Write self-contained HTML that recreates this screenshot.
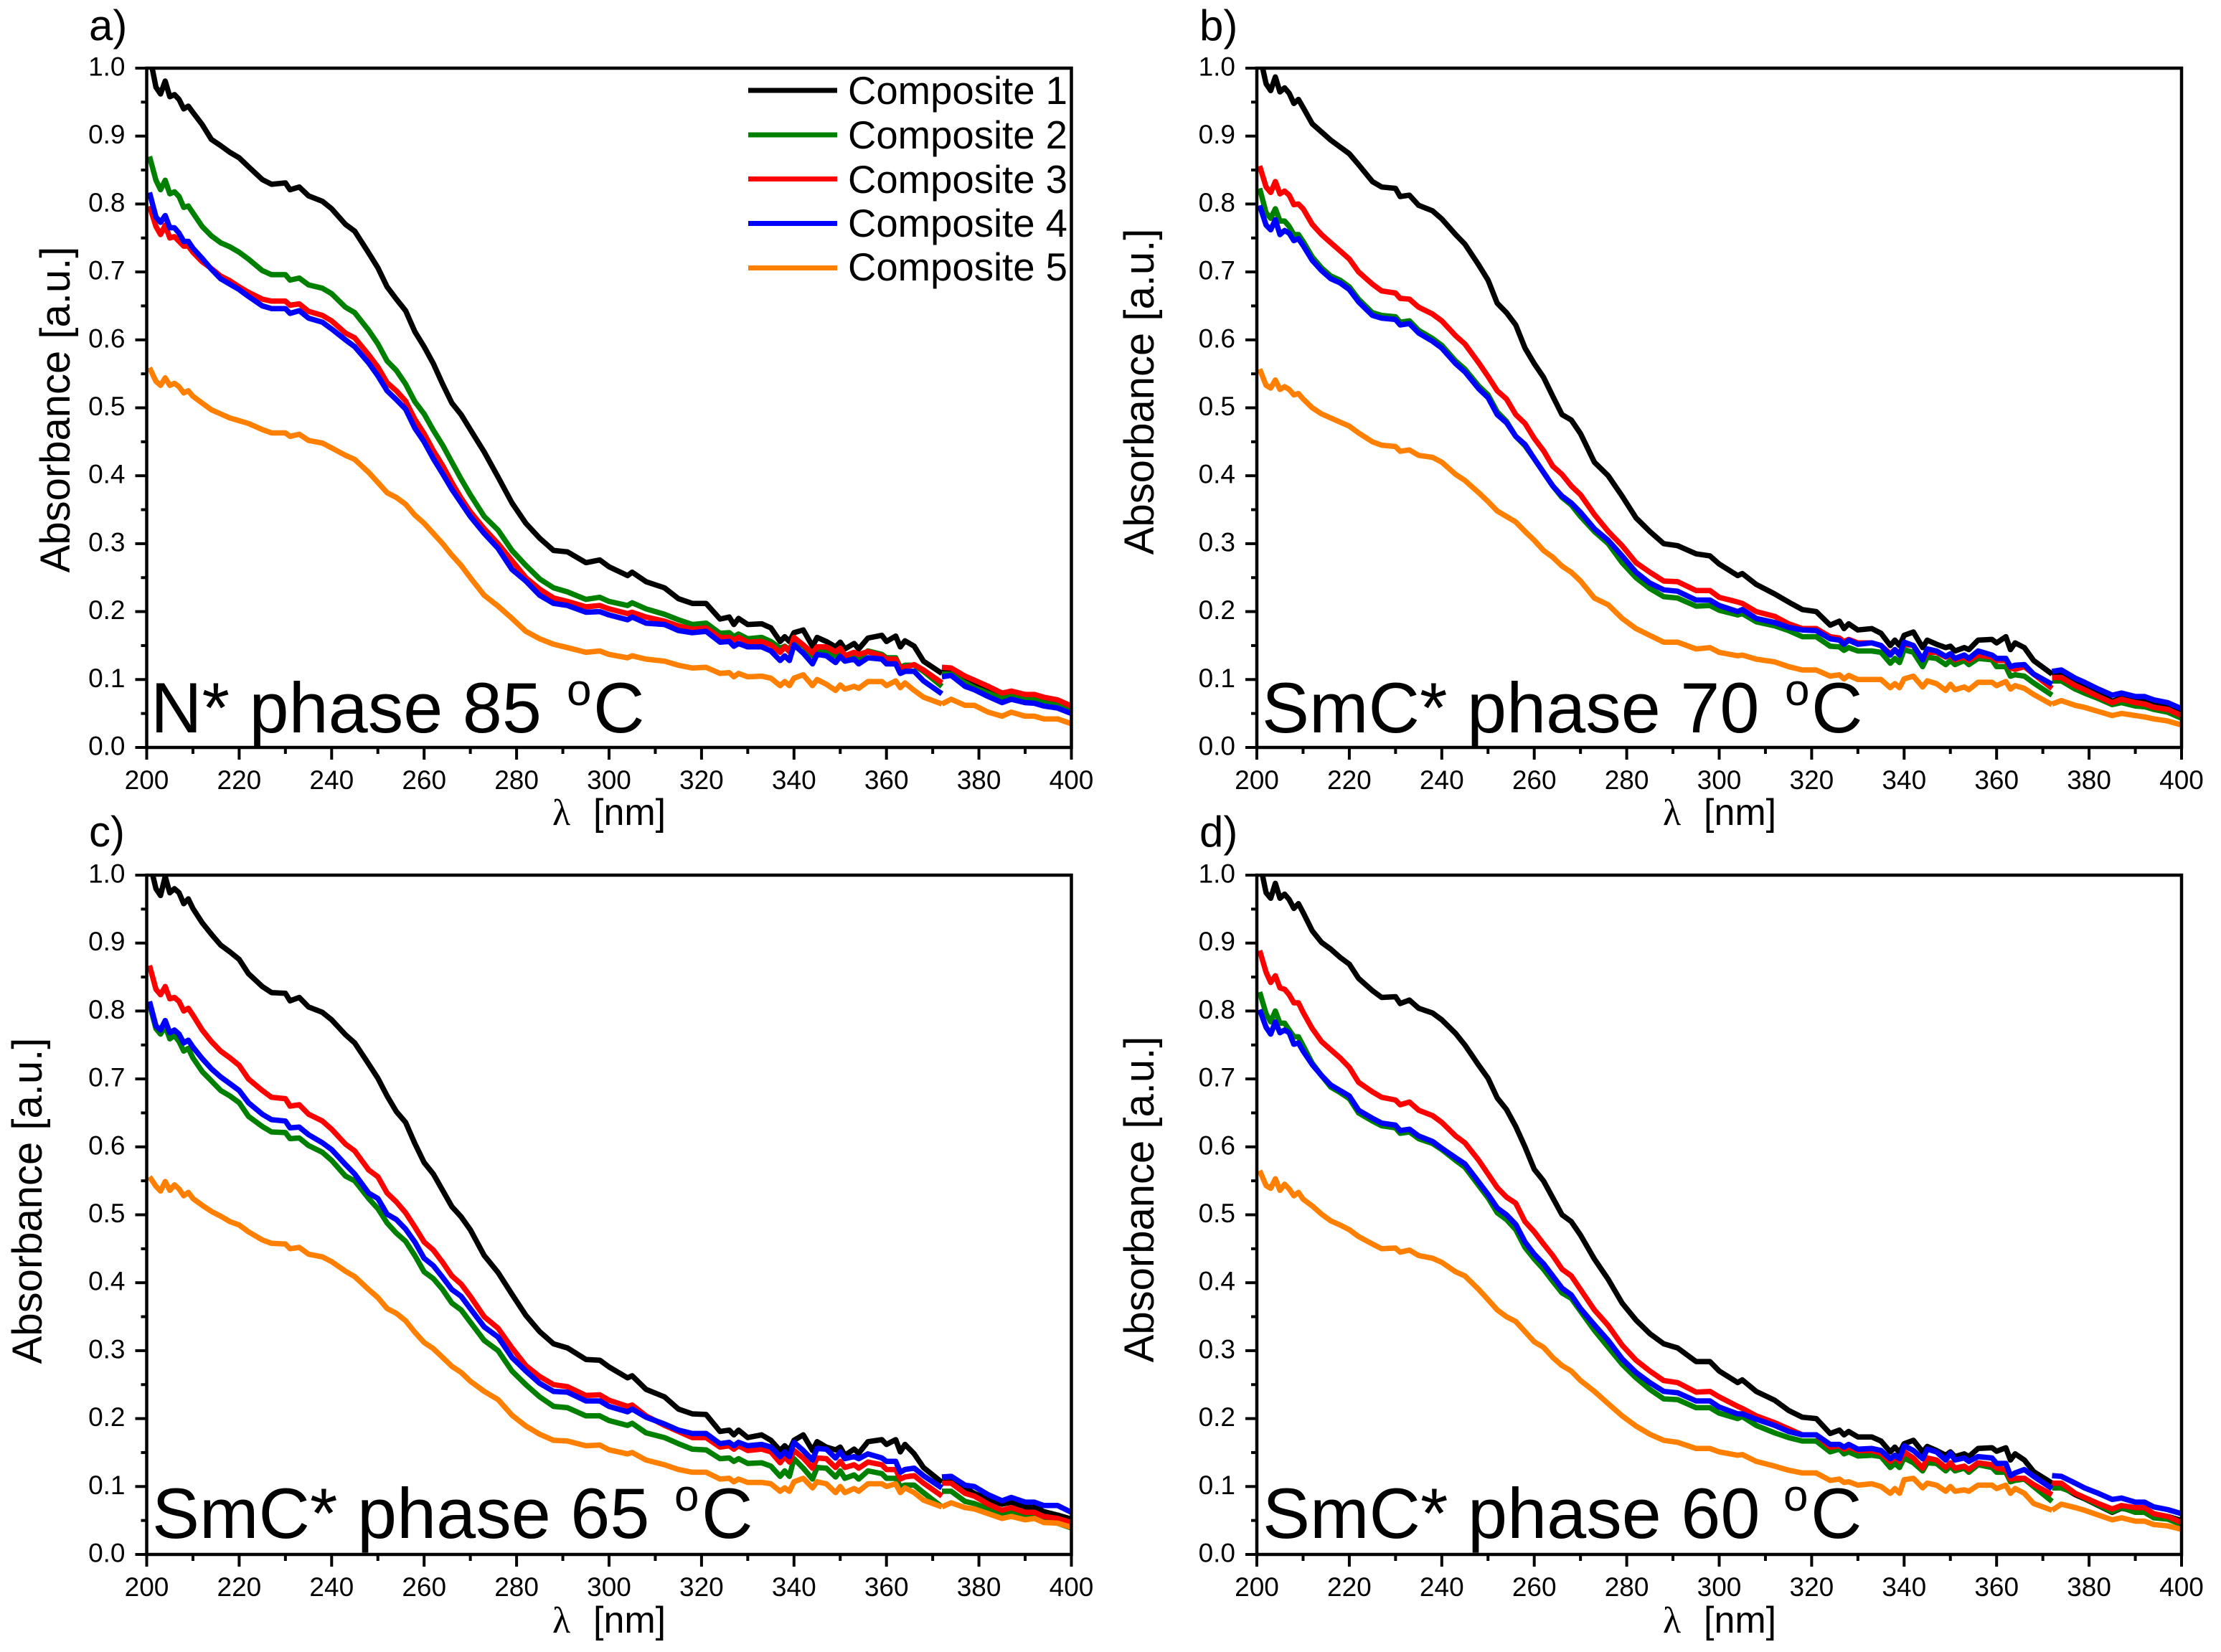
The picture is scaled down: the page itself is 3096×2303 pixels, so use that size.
<!DOCTYPE html>
<html lang="en">
<head>
<meta charset="utf-8">
<title>Absorbance spectra of composites</title>
<style>
html,body{margin:0;padding:0;background:#fff;}
svg{display:block;}
text{font-family:"Liberation Sans",sans-serif;fill:#000;}
.tick-label{font-size:37px;}
.axis-title{font-size:58px;}
.x-title{font-size:52px;}
.lambda{font-family:"Liberation Serif",serif;font-size:52px;}
.panel-letter{font-size:60px;}
.phase{font-size:99px;}
.phase-sup{font-size:62px;}
.legend-text{font-size:54.5px;}
</style>
</head>
<body>
<svg id="figure" xmlns="http://www.w3.org/2000/svg" width="3096" height="2303" viewBox="0 0 3096 2303">
<rect x="0" y="0" width="3096" height="2303" fill="#fff"/>
<g id="plots"></g>

<g>
<text class="panel-letter" x="124" y="56">a)</text>
<text class="axis-title" transform="translate(97 571) rotate(-90)" text-anchor="middle">Absorbance [a.u.]</text>
<text class="lambda" x="770" y="1150">λ</text>
<text class="x-title" x="827" y="1150">[nm]</text>
<text class="phase" x="210" y="1021">N* phase 85</text>
<text class="phase-sup" x="790" y="983">o</text>
<text class="phase" x="827" y="1021">C</text>
</g>

<g>
<text class="panel-letter" x="1672" y="56">b)</text>
<text class="axis-title" transform="translate(1608 546) rotate(-90)" text-anchor="middle">Absorbance [a.u.]</text>
<text class="lambda" x="2318" y="1150">λ</text>
<text class="x-title" x="2375" y="1150">[nm]</text>
<text class="phase" x="1759" y="1021">SmC* phase 70</text>
<text class="phase-sup" x="2488" y="983">o</text>
<text class="phase" x="2525" y="1021">C</text>
</g>

<g>
<text class="panel-letter" x="124" y="1180">c)</text>
<text class="axis-title" transform="translate(58 1674) rotate(-90)" text-anchor="middle">Absorbance [a.u.]</text>
<text class="lambda" x="770" y="2276">λ</text>
<text class="x-title" x="827" y="2276">[nm]</text>
<text class="phase" x="212" y="2144">SmC* phase 65</text>
<text class="phase-sup" x="940" y="2106">o</text>
<text class="phase" x="978" y="2144">C</text>
</g>

<g>
<text class="panel-letter" x="1672" y="1180">d)</text>
<text class="axis-title" transform="translate(1608 1672) rotate(-90)" text-anchor="middle">Absorbance [a.u.]</text>
<text class="lambda" x="2318" y="2276">λ</text>
<text class="x-title" x="2375" y="2276">[nm]</text>
<text class="phase" x="1760" y="2144">SmC* phase 60</text>
<text class="phase-sup" x="2486" y="2106">o</text>
<text class="phase" x="2524" y="2144">C</text>
</g>

<g>
<g>
<rect x="1043" y="122.500" width="124" height="7" fill="#000000"/>
<text class="legend-text" x="1182" y="145">Composite 1</text>
</g>
<g>
<rect x="1043" y="184.500" width="124" height="7" fill="#008000"/>
<text class="legend-text" x="1182" y="207">Composite 2</text>
</g>
<g>
<rect x="1043" y="246" width="124" height="7" fill="#ff0000"/>
<text class="legend-text" x="1182" y="269">Composite 3</text>
</g>
<g>
<rect x="1043" y="308" width="124" height="7" fill="#0000ff"/>
<text class="legend-text" x="1182" y="330">Composite 4</text>
</g>
<g>
<rect x="1043" y="370" width="124" height="7" fill="#ff8000"/>
<text class="legend-text" x="1182" y="391">Composite 5</text>
</g>
</g>
</svg>

<script>
// Shared wavelength samples. 372 appears twice: the detector change breaks each curve there.
const wavelengths = [200.6,202,203,204,205,206,207,208,209,210,
212,214,216,218,220,222,225,227,230,231,
233,235,238,240,243,245,248,250,252,254,
256,258,260,262,264,266,268,270,273,276,
279,282,285,288,291,295,298,300,304,305,
308,312,315,318,321,324,326,327,328,330,
333,335,337,338,339,340,342,344,345,347,
349,350,351,353,354,356,359,360,362,363,
364,366,368,372,
372,374,377,379,382,385,387,390,392,394,397,400];

const xTickValues = [200,220,240,260,280,300,320,340,360,380,400];
const xMinorTickValues = [210,230,250,270,290,310,330,350,370,390];
const yTickValues = [0,0.1,0.2,0.3,0.4,0.5,0.6,0.7,0.8,0.9,1];
const yTickLabels = ["0.0","0.1","0.2","0.3","0.4","0.5","0.6","0.7","0.8","0.9","1.0"];
const yMinorTickValues = [0.05,0.15,0.25,0.35,0.45,0.55,0.65,0.75,0.85,0.95];

const panelA_composite1 = [1.02,.972,.962,.981,.958,.961,.954,.94,.944,.935,
.917,.895,.886,.876,.868,.855,.836,.829,.831,.821,
.825,.812,.804,.793,.77,.76,.728,.706,.678,.66,
.643,.612,.59,.565,.535,.507,.49,.468,.435,.398,
.36,.33,.308,.29,.288,.272,.276,.266,.253,.258,
.244,.235,.219,.212,.212,.189,.192,.181,.19,.181,
.182,.176,.156,.163,.156,.169,.173,.149,.162,.156,
.148,.155,.145,.153,.145,.161,.165,.156,.164,.148,
.157,.149,.127,.109,
.112,.113,.1,.095,.085,.074,.08,.074,.074,.068,.065,.056];
const panelA_composite2 = [.87,.835,.821,.835,.815,.818,.811,.795,.797,.787,
.767,.753,.743,.737,.729,.719,.702,.696,.696,.688,
.691,.681,.676,.668,.648,.64,.614,.594,.569,.555,
.535,.509,.491,.467,.445,.42,.395,.372,.34,.32,
.29,.268,.248,.235,.229,.218,.221,.215,.209,.213,
.204,.196,.188,.181,.183,.168,.169,.163,.167,.16,
.162,.156,.146,.149,.144,.155,.15,.135,.144,.14,
.135,.142,.133,.138,.132,.142,.137,.132,.132,.118,
.121,.121,.112,.09,
.108,.108,.095,.088,.08,.072,.077,.071,.07,.066,.062,.054];
const panelA_composite3 = [.797,.767,.755,.769,.75,.752,.745,.738,.738,.729,
.715,.705,.694,.687,.678,.67,.66,.657,.657,.651,
.653,.642,.636,.628,.61,.603,.578,.56,.537,.525,
.51,.483,.462,.437,.415,.39,.367,.347,.322,.3,
.275,.25,.233,.22,.215,.207,.209,.204,.197,.199,
.192,.186,.179,.174,.176,.162,.162,.158,.162,.155,
.156,.151,.14,.148,.141,.162,.151,.139,.148,.148,
.141,.146,.135,.14,.137,.141,.135,.13,.13,.118,
.118,.122,.114,.095,
.118,.117,.105,.099,.09,.08,.083,.078,.078,.074,.07,.061];
const panelA_composite4 = [.817,.781,.773,.783,.765,.765,.757,.745,.745,.735,
.72,.704,.69,.682,.674,.664,.65,.646,.646,.639,
.643,.632,.626,.616,.6,.59,.566,.547,.525,.512,
.498,.47,.45,.425,.403,.38,.36,.34,.315,.293,
.262,.245,.224,.212,.209,.199,.2,.195,.188,.192,
.183,.181,.172,.169,.171,.155,.156,.149,.153,.148,
.148,.142,.128,.135,.128,.151,.139,.123,.137,.135,
.125,.134,.127,.13,.123,.132,.13,.123,.123,.109,
.112,.112,.098,.079,
.104,.106,.09,.085,.075,.066,.071,.066,.065,.061,.058,.05];
const panelA_composite5 = [.559,.539,.533,.544,.533,.536,.531,.522,.525,.517,
.507,.497,.491,.485,.481,.477,.468,.463,.463,.458,
.461,.452,.448,.441,.43,.424,.405,.39,.375,.368,
.358,.342,.33,.315,.3,.283,.268,.25,.224,.208,
.19,.171,.16,.152,.147,.14,.142,.137,.132,.135,
.13,.127,.121,.117,.118,.109,.11,.104,.109,.104,
.105,.102,.091,.097,.091,.102,.107,.091,.1,.093,
.084,.092,.086,.09,.087,.097,.097,.091,.098,.088,
.095,.084,.074,.064,
.064,.071,.062,.062,.052,.046,.052,.046,.046,.042,.042,.035];

const panelB_composite1 = [1.02,.977,.967,.987,.965,.971,.963,.948,.954,.942,
.918,.906,.894,.884,.874,.858,.833,.825,.823,.811,
.813,.798,.79,.778,.755,.741,.71,.688,.654,.64,
.622,.588,.565,.545,.517,.49,.482,.462,.42,.4,
.37,.338,.318,.3,.297,.285,.282,.27,.253,.256,
.24,.226,.214,.203,.2,.18,.186,.175,.182,.173,
.175,.168,.15,.158,.15,.165,.17,.147,.158,.152,
.147,.149,.142,.147,.144,.158,.159,.154,.163,.144,
.154,.147,.128,.108,
.11,.108,.096,.09,.08,.068,.073,.068,.068,.062,.06,.052];
const panelB_composite2 = [.823,.787,.779,.793,.775,.775,.767,.755,.755,.745,
.722,.706,.694,.688,.678,.66,.64,.636,.634,.626,
.628,.614,.602,.592,.569,.557,.532,.519,.494,.48,
.458,.444,.425,.405,.385,.368,.357,.34,.318,.3,
.272,.25,.234,.222,.22,.208,.209,.202,.195,.197,
.185,.179,.172,.163,.163,.149,.148,.143,.147,.142,
.142,.14,.124,.131,.125,.144,.14,.119,.133,.131,
.122,.128,.122,.128,.122,.131,.129,.119,.119,.105,
.107,.105,.095,.077,
.098,.098,.086,.08,.072,.063,.066,.061,.06,.056,.052,.043];
const panelB_composite3 = [.856,.825,.817,.833,.815,.819,.813,.799,.8,.793,
.77,.755,.743,.731,.719,.7,.682,.672,.669,.661,
.66,.648,.638,.628,.606,.594,.566,.546,.525,.513,
.49,.477,.455,.437,.414,.402,.385,.372,.343,.318,
.297,.272,.258,.245,.244,.231,.231,.221,.214,.212,
.2,.193,.182,.175,.175,.163,.161,.156,.159,.154,
.154,.15,.138,.144,.138,.152,.15,.129,.14,.14,
.133,.136,.129,.133,.128,.136,.133,.128,.128,.117,
.115,.119,.108,.087,
.103,.103,.091,.085,.075,.066,.071,.066,.064,.059,.056,.047];
const panelB_composite4 = [.798,.769,.762,.777,.755,.761,.757,.746,.749,.739,
.717,.702,.69,.684,.674,.656,.636,.632,.63,.622,
.624,.61,.598,.588,.565,.553,.528,.515,.49,.478,
.458,.446,.425,.405,.385,.37,.36,.346,.322,.305,
.282,.258,.242,.232,.23,.217,.217,.209,.2,.203,
.19,.184,.177,.173,.172,.16,.158,.152,.158,.152,
.154,.15,.136,.144,.136,.155,.15,.129,.145,.142,
.134,.138,.131,.136,.131,.142,.136,.131,.131,.119,
.121,.122,.108,.093,
.112,.114,.102,.096,.086,.077,.08,.075,.075,.07,.066,.057];
const panelB_composite5 = [.557,.533,.529,.541,.527,.531,.527,.519,.521,.513,
.5,.491,.485,.479,.473,.463,.45,.445,.443,.436,
.438,.43,.427,.42,.402,.393,.375,.362,.348,.34,
.332,.318,.305,.29,.28,.267,.258,.245,.22,.21,
.19,.175,.165,.155,.155,.145,.147,.14,.135,.136,
.13,.126,.119,.114,.114,.105,.107,.101,.106,.1,
.1,.1,.088,.094,.088,.101,.105,.089,.098,.094,
.084,.093,.085,.089,.085,.096,.096,.091,.097,.086,
.091,.087,.078,.063,
.064,.069,.062,.059,.053,.047,.05,.047,.045,.042,.039,.033];

const panelC_composite1 = [1.02,.98,.97,.998,.974,.98,.974,.958,.965,.951,
.93,.913,.897,.887,.876,.855,.836,.827,.826,.815,
.82,.806,.798,.787,.765,.753,.722,.701,.675,.652,
.636,.605,.577,.56,.536,.512,.497,.478,.44,.415,
.383,.352,.328,.31,.304,.287,.286,.276,.26,.263,
.243,.232,.214,.207,.206,.181,.183,.176,.183,.172,
.176,.168,.153,.16,.153,.168,.176,.153,.166,.158,
.154,.158,.146,.155,.149,.166,.169,.162,.169,.151,
.162,.148,.128,.106,
.106,.107,.098,.09,.081,.074,.077,.07,.07,.063,.058,.052];
const panelC_composite2 = [.81,.774,.766,.778,.759,.764,.755,.741,.745,.731,
.711,.697,.683,.675,.665,.645,.63,.622,.621,.612,
.613,.602,.592,.58,.557,.55,.524,.509,.488,.473,
.461,.44,.416,.406,.39,.37,.36,.342,.315,.3,
.27,.25,.232,.218,.216,.204,.204,.197,.19,.193,
.179,.172,.163,.155,.154,.141,.142,.137,.141,.134,
.135,.13,.115,.123,.115,.141,.127,.111,.128,.127,
.114,.123,.112,.117,.111,.123,.119,.112,.112,.1,
.102,.102,.091,.07,
.093,.093,.078,.075,.067,.058,.062,.056,.056,.05,.046,.039];
const panelC_composite3 = [.867,.832,.824,.836,.818,.82,.814,.8,.804,.794,
.772,.755,.741,.731,.72,.7,.683,.673,.671,.66,
.662,.648,.638,.626,.604,.594,.566,.556,.532,.519,
.503,.482,.46,.448,.43,.41,.398,.38,.35,.333,
.304,.278,.262,.25,.247,.234,.235,.227,.218,.22,
.204,.19,.181,.172,.172,.158,.16,.155,.16,.153,
.155,.151,.135,.144,.136,.153,.142,.127,.142,.141,
.128,.137,.128,.132,.127,.136,.132,.125,.125,.111,
.114,.116,.105,.086,
.105,.105,.09,.086,.074,.065,.069,.062,.062,.056,.053,.047];
const panelC_composite4 = [.814,.778,.772,.786,.768,.772,.766,.753,.757,.747,
.73,.715,.703,.693,.683,.665,.648,.64,.638,.628,
.629,.618,.606,.596,.574,.56,.532,.524,.501,.493,
.479,.46,.436,.425,.408,.39,.38,.362,.335,.32,
.29,.27,.252,.24,.239,.226,.226,.218,.21,.214,
.202,.192,.183,.178,.178,.163,.165,.16,.165,.16,
.162,.158,.144,.151,.144,.165,.153,.139,.156,.155,
.142,.151,.141,.144,.141,.148,.142,.137,.137,.121,
.125,.127,.116,.098,
.114,.115,.102,.1,.088,.079,.084,.077,.077,.072,.072,.062];
const panelC_composite5 = [.556,.542,.535,.549,.536,.544,.538,.528,.533,.524,
.514,.505,.498,.49,.485,.475,.463,.458,.457,.45,
.452,.442,.438,.431,.417,.409,.39,.378,.362,.355,
.344,.327,.312,.303,.29,.277,.268,.255,.24,.228,
.205,.189,.177,.168,.167,.16,.161,.154,.148,.15,
.139,.132,.125,.121,.121,.111,.112,.107,.111,.106,
.106,.104,.093,.098,.093,.107,.112,.098,.107,.104,
.091,.1,.091,.097,.093,.104,.104,.1,.104,.091,
.098,.091,.08,.07,
.07,.076,.069,.067,.06,.053,.056,.051,.053,.047,.046,.04];

const panelD_composite1 = [1.02,.974,.966,.988,.966,.972,.964,.951,.958,.945,
.918,.901,.891,.879,.869,.848,.83,.82,.821,.811,
.816,.804,.797,.787,.767,.75,.72,.701,.672,.655,
.63,.6,.567,.55,.525,.5,.49,.47,.435,.405,
.37,.345,.325,.31,.304,.284,.284,.27,.253,.257,
.24,.227,.212,.202,.2,.178,.183,.176,.181,.173,
.173,.167,.151,.158,.15,.163,.168,.151,.159,.153,
.146,.151,.144,.148,.144,.156,.157,.152,.157,.139,
.148,.139,.122,.105,
.105,.1,.088,.082,.072,.062,.068,.064,.064,.058,.056,.05];
const panelD_composite2 = [.828,.796,.784,.8,.782,.782,.772,.762,.762,.749,
.723,.705,.688,.68,.671,.65,.638,.631,.628,.62,
.622,.612,.605,.596,.58,.57,.543,.525,.503,.493,
.478,.452,.435,.42,.402,.385,.377,.358,.33,.305,
.28,.26,.243,.229,.228,.216,.216,.208,.2,.203,
.19,.179,.172,.167,.167,.151,.155,.148,.151,.145,
.146,.144,.128,.134,.128,.142,.135,.123,.135,.134,
.123,.13,.123,.127,.121,.132,.128,.121,.121,.107,
.109,.111,.1,.078,
.098,.098,.09,.083,.073,.063,.069,.062,.062,.054,.052,.044];
const panelD_composite3 = [.889,.857,.842,.852,.834,.832,.824,.812,.812,.798,
.774,.755,.743,.731,.717,.695,.681,.673,.669,.662,
.666,.654,.646,.636,.616,.606,.58,.56,.54,.526,
.517,.49,.475,.457,.44,.42,.41,.39,.36,.337,
.308,.286,.27,.256,.253,.239,.24,.232,.218,.215,
.204,.194,.185,.176,.176,.158,.16,.155,.158,.153,
.153,.149,.137,.144,.137,.151,.142,.127,.142,.139,
.128,.135,.127,.13,.125,.135,.132,.127,.125,.111,
.112,.112,.103,.088,
.105,.105,.09,.084,.075,.067,.072,.069,.069,.06,.056,.047];
const panelD_composite4 = [.802,.776,.766,.784,.768,.772,.768,.751,.753,.741,
.721,.705,.691,.683,.675,.654,.642,.635,.632,.624,
.626,.616,.608,.598,.584,.575,.548,.53,.51,.5,
.486,.46,.442,.428,.41,.392,.382,.362,.338,.315,
.288,.268,.253,.24,.238,.226,.226,.217,.207,.207,
.199,.19,.181,.176,.176,.162,.162,.158,.162,.155,
.156,.153,.141,.146,.141,.16,.153,.141,.155,.151,
.139,.149,.139,.142,.137,.144,.142,.134,.134,.116,
.12,.125,.115,.097,
.116,.115,.105,.098,.09,.081,.083,.077,.077,.07,.066,.06];
const panelD_composite5 = [.565,.543,.539,.553,.536,.545,.538,.528,.533,.523,
.513,.501,.491,.485,.478,.468,.457,.45,.451,.445,
.448,.44,.436,.43,.416,.41,.39,.375,.36,.35,
.343,.328,.313,.305,.29,.278,.27,.256,.24,.222,
.204,.189,.177,.168,.165,.156,.156,.151,.146,.147,
.137,.13,.124,.12,.12,.109,.111,.106,.107,.102,
.104,.1,.09,.097,.09,.11,.112,.098,.105,.102,
.093,.1,.093,.095,.093,.102,.102,.097,.102,.09,
.097,.09,.075,.065,
.065,.074,.069,.065,.058,.051,.054,.049,.049,.044,.042,.037];

const seriesColors = ["#000000","#008000","#ff0000","#0000ff","#ff8000"];
const panelSeries = {
  a:[panelA_composite1,panelA_composite2,panelA_composite3,panelA_composite4,panelA_composite5],
  b:[panelB_composite1,panelB_composite2,panelB_composite3,panelB_composite4,panelB_composite5],
  c:[panelC_composite1,panelC_composite2,panelC_composite3,panelC_composite4,panelC_composite5],
  d:[panelD_composite1,panelD_composite2,panelD_composite3,panelD_composite4,panelD_composite5]
};

const layout = {
  a:{left:204.5,top:95},
  b:{left:1752,top:95},
  c:{left:204.5,top:1220},
  d:{left:1752,top:1220}
};
const plotWidth = 1289;
const plotHeight = 947;

const SVG_NS = "http://www.w3.org/2000/svg";

function make(tag, attrs, parent){
  const el = document.createElementNS(SVG_NS, tag);
  for (const k in attrs) el.setAttribute(k, attrs[k]);
  parent.appendChild(el);
  return el;
}

function drawPanel(key){
  const box = layout[key];
  const xScale = v => box.left + (v - 200) / 200 * plotWidth;
  const yScale = v => box.top + (1 - v) * plotHeight;
  const bottom = yScale(0);
  const right = xScale(400);

  const g = make("g", {}, document.getElementById("plots"));
  
  

  const clip = make("clipPath", {id:"clip-" + key}, g);
  make("rect", {x:box.left, y:box.top, width:plotWidth, height:plotHeight}, clip);

  const curves = make("g", {"clip-path":"url(#clip-" + key + ")"}, g);
  
  

  panelSeries[key].forEach(function(values, s){
    const segments = [[]];
    wavelengths.forEach(function(w, i){
      if (i >= values.length) return;
      if (i > 0 && w === wavelengths[i - 1]) segments.push([]);
      segments[segments.length - 1].push(xScale(w).toFixed(1) + "," + yScale(values[i]).toFixed(1));
    });
    segments.forEach(function(pts, n){
      const line = make("polyline", {
        points: pts.join(" "), fill: "none", stroke: seriesColors[s],
        "stroke-width": 7.5, "stroke-linejoin": "round", "stroke-linecap": "butt"
      }, curves);
      
      
    });
  });

  const frame = make("rect", {x:box.left, y:box.top, width:plotWidth, height:plotHeight, fill:"none", stroke:"#000", "stroke-width":4.5}, g);
  
  

  yTickValues.forEach(function(v, i){
    const y = yScale(v);
    const t = make("line", {x1:box.left - 16, x2:box.left, y1:y, y2:y, stroke:"#000", "stroke-width":4}, g);
    
    
    const lab = make("text", {x:box.left - 30, y:y + 10.5, "text-anchor":"end", "class":"tick-label"}, g);
    lab.textContent = yTickLabels[i];
    
    
  });
  yMinorTickValues.forEach(function(v){
    const y = yScale(v);
    const t = make("line", {x1:box.left - 8, x2:box.left, y1:y, y2:y, stroke:"#000", "stroke-width":4}, g);
    
    
  });
  xTickValues.forEach(function(v){
    const x = xScale(v);
    const t = make("line", {x1:x, x2:x, y1:bottom, y2:bottom + 17, stroke:"#000", "stroke-width":4}, g);
    
    
    const lab = make("text", {x:x, y:bottom + 58, "text-anchor":"middle", "class":"tick-label"}, g);
    lab.textContent = String(v);
    
    
  });
  xMinorTickValues.forEach(function(v){
    const x = xScale(v);
    const t = make("line", {x1:x, x2:x, y1:bottom, y2:bottom + 9, stroke:"#000", "stroke-width":4}, g);
    
    
  });
}

["a","b","c","d"].forEach(drawPanel);
</script>
</body>
</html>
